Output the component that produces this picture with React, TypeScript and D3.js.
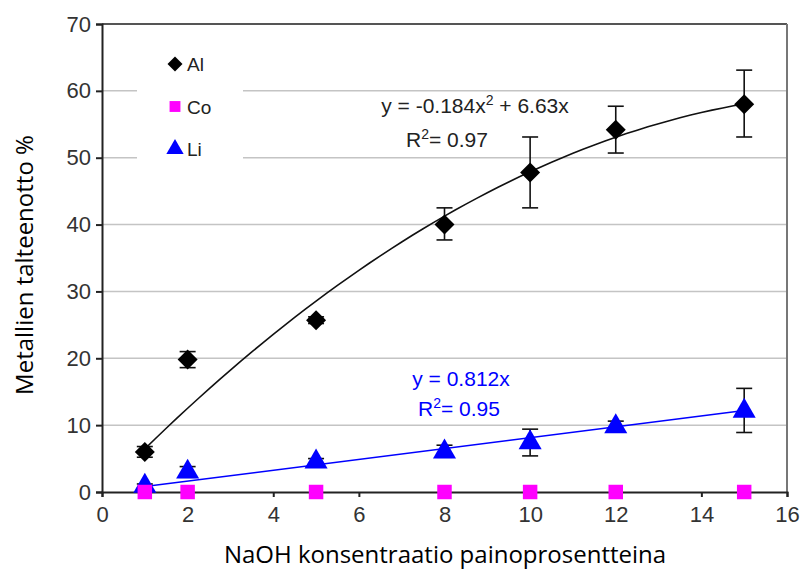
import React, { useEffect, useRef } from 'react';
import * as d3 from 'd3';

// NaOH concentration (wt-%)
const concentrations = [1, 2, 5, 8, 10, 12, 15];

// recovery %
const alValues = [6.0, 19.8, 25.7, 40.0, 47.8, 54.2, 58.0];
const alErrLow = [5.2, 18.6, 25.2, 37.7, 42.5, 50.7, 53.1];
const alErrHigh = [6.8, 21.0, 26.2, 42.5, 53.1, 57.7, 63.1];

const coValues = [0, 0, 0, 0, 0, 0, 0];

const liValues = [0.9, 3.0, 4.5, 6.0, 7.4, 9.8, 12.1];
const liErrLow = [0.6, 2.2, 4.0, 5.2, 5.4, 9.0, 8.9];
const liErrHigh = [1.2, 3.8, 5.0, 7.0, 9.4, 10.6, 15.5];

// trendline coefficients printed in the chart
const alTrend = { a: -0.184, b: 6.63 };
const liTrend = { b: 0.812 };

const xTicks = [0, 2, 4, 6, 8, 10, 12, 14, 16];
const yTicks = [0, 10, 20, 30, 40, 50, 60, 70];

const legendItems = [
  { name: 'Al', shape: 'diamond', color: '#000000' },
  { name: 'Co', shape: 'square', color: '#ff00ff' },
  { name: 'Li', shape: 'triangle', color: '#0000ff' },
];

const symbolFor = (shape: string) => {
  if (shape === 'diamond') return d3.symbol().type(d3.symbolSquare).size(200)();
  if (shape === 'square') return d3.symbol().type(d3.symbolSquare).size(210)();
  return d3.symbol().type(d3.symbolTriangle).size(230)();
};

const App = () => {
  const svgRef = useRef<SVGSVGElement>(null);

  useEffect(() => {
    const svg = d3.select(svgRef.current);
    svg.selectAll('*').remove();

    const margin = { top: 24, right: 17, bottom: 79, left: 102 };
    const width = 804 - margin.left - margin.right;
    const height = 571 - margin.top - margin.bottom;
    const font = 'Liberation Sans, Arial, sans-serif';

    svg.append('rect').attr('width', 804).attr('height', 571).attr('fill', '#fff');

    const g = svg.append('g').attr('transform', `translate(${margin.left}, ${margin.top})`);

    const x = d3.scaleLinear().domain([0, 16]).range([0, width]);
    const y = d3.scaleLinear().domain([0, 70]).range([height, 0]);

    // gridlines
    g.selectAll('.grid')
      .data(yTicks.filter((d) => d > 0))
      .enter()
      .append('line')
      .attr('x1', 0)
      .attr('x2', width)
      .attr('y1', (d) => y(d))
      .attr('y2', (d) => y(d))
      .attr('stroke', '#c4c4c4')
      .attr('stroke-width', 1.5);

    // frame top / right
    g.append('line').attr('x1', 0).attr('x2', width).attr('y1', 0).attr('y2', 0)
      .attr('stroke', '#555').attr('stroke-width', 2);
    g.append('line').attr('x1', width).attr('x2', width).attr('y1', 0).attr('y2', height)
      .attr('stroke', '#777').attr('stroke-width', 2);

    // legend box covers gridlines
    g.append('rect')
      .attr('x', 35)
      .attr('y', 20)
      .attr('width', 106)
      .attr('height', 150)
      .attr('fill', '#fff');

    // axes
    const yAxis = d3.axisLeft(y).tickValues(yTicks).tickSize(6).tickPadding(5);
    const yG = g.append('g').call(yAxis);
    const xAxis = d3.axisBottom(x).tickValues(xTicks).tickSize(5).tickPadding(9);
    const xG = g.append('g').attr('transform', `translate(0, ${height})`).call(xAxis);
    [yG, xG].forEach((ax) => {
      ax.attr('font-size', 22).attr('font-family', font);
      ax.select('.domain').attr('stroke', '#222').attr('stroke-width', 2);
      ax.selectAll('.tick line').attr('stroke', '#222').attr('stroke-width', 2);
      ax.selectAll('.tick text').attr('fill', '#333');
    });

    // trendlines
    const trendXs = d3.range(1, 15.01, 0.25);
    const line = d3.line<number[]>().x((d) => x(d[0])).y((d) => y(d[1]));
    g.append('path')
      .attr('d', line(trendXs.map((t) => [t, alTrend.a * t * t + alTrend.b * t])))
      .attr('fill', 'none')
      .attr('stroke', '#111')
      .attr('stroke-width', 1.6);
    g.append('path')
      .attr('d', line([1, 15].map((t) => [t, liTrend.b * t])))
      .attr('fill', 'none')
      .attr('stroke', '#0000ff')
      .attr('stroke-width', 1.6);

    const drawErrors = (lo: number[], hi: number[]) => {
      const eg = g.append('g').attr('stroke', '#111').attr('stroke-width', 1.6);
      concentrations.forEach((c, i) => {
        const cx = x(c);
        eg.append('line').attr('x1', cx).attr('x2', cx).attr('y1', y(lo[i])).attr('y2', y(hi[i]));
        [lo[i], hi[i]].forEach((v) => {
          eg.append('line').attr('x1', cx - 8).attr('x2', cx + 8).attr('y1', y(v)).attr('y2', y(v));
        });
      });
    };

    const drawMarkers = (vals: number[], shape: string, color: string) => {
      g.append('g')
        .selectAll('path')
        .data(vals)
        .enter()
        .append('path')
        .attr('d', symbolFor(shape))
        .attr('transform', (d, i) =>
          `translate(${x(concentrations[i])}, ${y(d)})` + (shape === 'diamond' ? ' rotate(45)' : ''))
        .attr('fill', color);
    };

    drawErrors(alErrLow, alErrHigh);
    drawMarkers(alValues, 'diamond', '#000');
    drawErrors(liErrLow, liErrHigh);
    drawMarkers(liValues, 'triangle', '#0000ff');
    drawMarkers(coValues, 'square', '#ff00ff');

    // legend
    legendItems.forEach((item, i) => {
      const ly = 40 + i * 42.5;
      g.append('path')
        .attr('d', symbolFor(item.shape))
        .attr('transform', `translate(73, ${ly})` + (item.shape === 'diamond' ? ' rotate(45) scale(0.75)' : ' scale(0.75)'))
        .attr('fill', item.color);
      g.append('text')
        .attr('x', 85)
        .attr('y', ly + 7)
        .style('font-family', font)
        .style('font-size', '19px')
        .attr('fill', '#222')
        .text(item.name);
    });

    // equations (text with superscripts)
    const eq = (tx: number, ty: number, color: string, parts: [string, boolean][]) => {
      const t = g.append('text')
        .attr('x', tx)
        .attr('y', ty)
        .attr('text-anchor', 'middle')
        .style('font-family', font)
        .style('font-size', '21px')
        .attr('fill', color);
      let raised = false;
      parts.forEach(([s, sup]) => {
        const dy = sup ? -8 : raised ? 8 : 0;
        raised = sup;
        t.append('tspan')
          .attr('dy', dy)
          .style('font-size', sup ? '14px' : '21px')
          .text(s);
      });
    };
    eq(373, 89, '#222', [['y = -0.184x', false], ['2', true], [' + 6.63x', false]]);
    eq(345, 123, '#222', [['R', false], ['2', true], ['= 0.97', false]]);
    eq(359, 362, '#0000ff', [['y = 0.812x', false]]);
    eq(357, 392, '#0000ff', [['R', false], ['2', true], ['= 0.95', false]]);

    // axis titles
    svg.append('text')
      .attr('x', 445)
      .attr('y', 563)
      .attr('text-anchor', 'middle')
      .style('font-family', 'Open Sans, sans-serif')
      .style('font-size', '24px')
      .attr('fill', '#000')
      .text('NaOH konsentraatio painoprosentteina');
    svg.append('text')
      .attr('transform', 'translate(33, 265) rotate(-90)')
      .attr('text-anchor', 'middle')
      .style('font-family', 'Open Sans, sans-serif')
      .style('font-size', '24px')
      .attr('fill', '#000')
      .text('Metallien talteenotto %');
  }, []);

  return (
    <svg
      ref={svgRef}
      width={804}
      height={571}
      style={{ position: 'absolute', left: 0, top: 0 }}
    ></svg>
  );
};

export default App;
